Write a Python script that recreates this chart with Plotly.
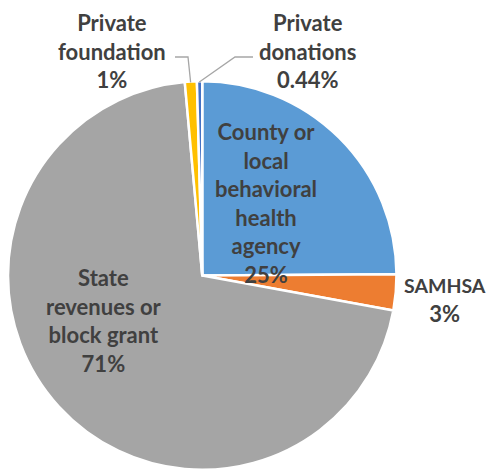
import math
import plotly.graph_objects as go

# ---- data ----
categories = ["County or<br>local<br>behavioral<br>health<br>agency", "SAMHSA", "State<br>revenues or<br>block grant",
              "Private<br>foundation", "Private<br>donations"]
values = [25, 3, 71, 1, 0.44]
colors = ["#5B9BD5", "#ED7D31", "#A5A5A5", "#FFC000", "#4472C4"]

W, H = 494, 470
OFF = 8  # page body margin offset of the figure inside the window
# pie geometry (window pixels)
CX, CY, R = 202, 275.5, 194.5

def px(x):
    return min(1, max(0, (x - OFF) / W))

def py(y):
    return min(1, max(0, 1 - (y - OFF) / H))

fig = go.Figure()
fig.add_trace(go.Pie(
    labels=[c.replace("<br>", " ") for c in categories],
    values=values,
    sort=False,
    direction="clockwise",
    rotation=0,
    marker=dict(colors=colors, line=dict(color="white", width=2.5)),
    textinfo="none",
    hoverinfo="label+percent",
    showlegend=False,
    domain=dict(x=[px(CX - R), px(CX + R)], y=[py(CY + R), py(CY - R)]),
))

# label positions (window pixel centres) and per-label name size
label_pos = [(265.5, 203), (445, 300), (103.5, 320), (112, 51), (307, 51)]
name_size = [22, 19.5, 22, 22, 22]
font = dict(family="Lato", size=22, color="#404040", weight="bold")
annotations = []
for cat, v, (lx, ly), ns in zip(categories, values, label_pos, name_size):
    name = cat if ns == 22 else f'<span style="font-size:{ns}px">{cat}</span>'
    annotations.append(dict(
        x=px(lx), y=py(ly), xref="paper", yref="paper",
        text=f"{name}<br>{v:g}%", showarrow=False,
        xanchor="center", yanchor="middle", align="center", font=font,
    ))

# leader lines for the two small slices, from slice edge (computed from data)
total = sum(values)
cum = 0
mids = []
for v in values:
    mids.append((cum + v / 2) / total * 2 * math.pi)
    cum += v

leaders = {3: [(188, 57), (175, 57)], 4: [(235, 57), (253, 57)]}
shapes = []
for idx, pts in leaders.items():
    a = mids[idx]
    ex, ey = CX + (R - 1) * math.sin(a), CY - (R - 1) * math.cos(a)
    path_pts = [(ex, ey)] + pts
    path = "M " + " L ".join(f"{px(x):.5f},{py(y):.5f}" for x, y in path_pts)
    shapes.append(dict(type="path", path=path, xref="paper", yref="paper",
                       line=dict(color="#A6A6A6", width=1.3)))

fig.update_layout(
    width=W, height=H,
    margin=dict(l=0, r=0, t=0, b=0),
    paper_bgcolor="white", plot_bgcolor="white",
    annotations=annotations, shapes=shapes,
)
fig.write_html("out.html")
